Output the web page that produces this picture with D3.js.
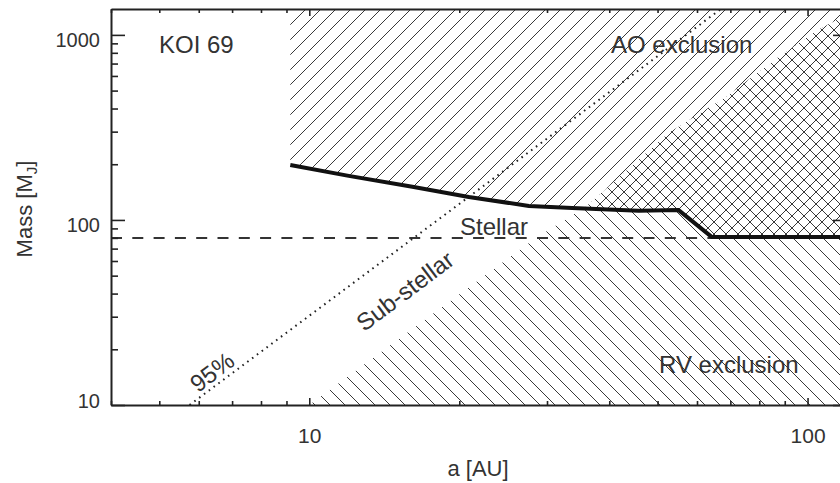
<!DOCTYPE html>
<html>
<head>
<meta charset="utf-8">
<script src="https://cdn.jsdelivr.net/npm/d3@7"></script>
<style>
  html, body { margin: 0; padding: 0; background: #fff; }
  #svg-container { width: 840px; height: 483px; }
  text { font-family: "Liberation Sans", Arial, Helvetica, sans-serif; fill: #333; }
</style>
</head>
<body>
<div id="svg-container"></div>
<script>
////////////////////////////////////////////////////////////////////
////////////////////////////  Data  ////////////////////////////////
// heavy line = AO detection limit, a [AU] / mass [MJ]
const aoLimitA = [9.16, 12.0, 16.1, 20.9, 27.6, 33.7, 45.8, 55.1, 64.2, 120];
const aoLimitM = [198, 173, 151, 133, 119, 116, 112, 113, 81, 81];

// lower edge of the RV exclusion zone
const rvLimitA = [10, 28.5, 35.9, 52.6, 68.5, 87.5, 105, 120];
const rvLimitM = [10, 80, 118, 295, 462, 760, 1065, 1290];

// 95% dotted line
const dottedA = [5.75, 67];
const dottedM = [10, 1380];

// stellar / sub-stellar boundary
const stellarMass = 80;

// axes
const xDomain = [4, 120];
const yDomain = [10, 1380];
const xMajor = [10, 100];
const yMajor = [10, 100, 1000];

////////////////////////////////////////////////////////////////////
////////////////////////////  Init  ////////////////////////////////
const width = 840;
const height = 483;
const plot = { left: 111, right: 847, top: 9, bottom: 405 };

const svg = d3.select("#svg-container").append("svg")
  .attr("width", width).attr("height", height);

const x = d3.scaleLog().domain(xDomain).range([plot.left, plot.right]);
const y = d3.scaleLog().domain(yDomain).range([plot.bottom, plot.top]);

const aoPts = aoLimitA.map((a, i) => [a, aoLimitM[i]]);
const rvPts = rvLimitA.map((a, i) => [a, rvLimitM[i]]);
const dotPts = dottedA.map((a, i) => [a, dottedM[i]]);

const line = d3.line().x((d) => x(d[0])).y((d) => y(d[1]));

// region polygons (in data units)
const aoRegion = [[aoLimitA[0], yDomain[1]], ...aoPts, [xDomain[1], yDomain[1]]];
const rvRegion = [...rvPts, [xDomain[1], yDomain[0]]];

const defs = svg.append("defs");

defs.append("clipPath").attr("id", "plot-clip")
  .append("rect")
  .attr("x", plot.left).attr("y", plot.top)
  .attr("width", plot.right - plot.left).attr("height", plot.bottom - plot.top);

defs.append("clipPath").attr("id", "ao-clip")
  .append("path").attr("d", line(aoRegion) + "Z");

// hatch patterns
function hatch(id, s, dirs) {
  const p = defs.append("pattern").attr("id", id)
    .attr("patternUnits", "userSpaceOnUse")
    .attr("width", s).attr("height", s);
  let d = "";
  if (dirs.includes("/")) d += `M-1,1 L1,-1 M0,${s} L${s},0 M${s - 1},${s + 1} L${s + 1},${s - 1} `;
  if (dirs.includes("\\")) d += `M0,0 L${s},${s} M-1,${s - 1} L1,${s + 1} M${s - 1},-1 L${s + 1},1`;
  p.append("path").attr("d", d)
    .attr("stroke", "#222").attr("stroke-width", 0.9).attr("fill", "none");
}
hatch("fwd", 15, "/");
hatch("back", 15, "\\");
hatch("cross", 12, "/\\");

////////////////////////////////////////////////////////////////////
////////////////////////////  Regions  /////////////////////////////
const g = svg.append("g").attr("clip-path", "url(#plot-clip)");

g.append("path").attr("d", line(aoRegion) + "Z").attr("fill", "url(#fwd)");
g.append("path").attr("d", line(rvRegion) + "Z").attr("fill", "url(#back)");

// overlap of both zones -> cross hatch
const both = g.append("g").attr("clip-path", "url(#ao-clip)");
both.append("path").attr("d", line(rvRegion) + "Z").attr("fill", "#fff");
both.append("path").attr("d", line(rvRegion) + "Z").attr("fill", "url(#cross)");

// dashed stellar limit
g.append("path")
  .attr("d", line([[xDomain[0], stellarMass], [xDomain[1], stellarMass]]))
  .attr("stroke", "#333").attr("stroke-width", 2)
  .attr("stroke-dasharray", "11,10.3").attr("fill", "none");

// 95% dotted
g.append("path")
  .attr("d", line(dotPts))
  .attr("stroke", "#222").attr("stroke-width", 2)
  .attr("stroke-dasharray", "1.6,4.4").attr("fill", "none");

// heavy AO line
g.append("path")
  .attr("d", line(aoPts))
  .attr("stroke", "#111").attr("stroke-width", 4)
  .attr("stroke-linejoin", "round").attr("fill", "none");

////////////////////////////////////////////////////////////////////
////////////////////////////  Axes  ////////////////////////////////
const isMajor = (v) => Math.abs(Math.log10(v) - Math.round(Math.log10(v))) < 1e-9;
const fmt = (list) => (d) => (list.includes(d) ? d : "");

function styleAxis(sel, majorLen, minorLen, attr) {
  sel.select(".domain").attr("stroke", "#222").attr("stroke-width", 2);
  sel.selectAll(".tick line")
    .attr("stroke", "#222").attr("stroke-width", 1.6)
    .attr(attr, (d) => (isMajor(d) ? majorLen : minorLen));
}

// bottom
svg.append("g")
  .attr("transform", `translate(0,${plot.bottom})`)
  .call(d3.axisBottom(x).tickValues(x.ticks()).tickFormat(fmt(xMajor)).tickSizeOuter(0))
  .call((s) => styleAxis(s, -7, -4, "y2"))
  .call((s) => s.selectAll(".tick text")
    .attr("y", 38).attr("dy", 0)
    .style("font-size", "21px").attr("fill", "#333"));

// top
svg.append("g")
  .attr("transform", `translate(0,${plot.top})`)
  .call(d3.axisTop(x).tickValues(x.ticks()).tickFormat("").tickSizeOuter(0))
  .call((s) => styleAxis(s, 7, 4, "y2"));

// left
svg.append("g")
  .attr("transform", `translate(${plot.left},0)`)
  .call(d3.axisLeft(y).tickValues(y.ticks()).tickFormat(fmt(yMajor)).tickSizeOuter(0).tickPadding(11))
  .call((s) => styleAxis(s, 14, 7, "x2"))
  .call((s) => s.selectAll(".tick text")
    .attr("x", -11)
    .attr("dy", (d) => (d === yMajor[0] ? "0.1em" : "0.6em"))
    .style("font-size", "20px").attr("fill", "#333"));

// right
svg.append("g")
  .attr("transform", `translate(${plot.right},0)`)
  .call(d3.axisRight(y).tickValues(y.ticks()).tickFormat("").tickSizeOuter(0))
  .call((s) => styleAxis(s, -14, -7, "x2"));

svg.selectAll(".domain").attr("fill", "none");

// axis titles
svg.append("text")
  .attr("x", 478).attr("y", 476)
  .attr("text-anchor", "middle")
  .style("font-size", "22px")
  .text("a [AU]");

const yTitle = svg.append("text")
  .attr("transform", "translate(32,209) rotate(-90)")
  .attr("text-anchor", "middle")
  .style("font-size", "22px");
yTitle.append("tspan").text("Mass [M");
yTitle.append("tspan").attr("dy", 5).style("font-size", "15px").text("J");
yTitle.append("tspan").attr("dy", -5).text("]");

////////////////////////////////////////////////////////////////////
////////////////////////////  Labels  //////////////////////////////
const label = (txt, px, py, rot) =>
  svg.append("text")
    .attr("transform", `translate(${px},${py})` + (rot ? ` rotate(${rot})` : ""))
    .attr("text-anchor", rot ? "middle" : "start")
    .attr("dy", rot ? "0.35em" : 0)
    .style("font-size", "24px")
    .text(txt);

label("KOI 69", 159, 53);
label("AO exclusion", 611, 53);
label("Stellar", 460, 235);
label("RV exclusion", 659, 373);
label("Sub-stellar", 405, 291, -37);
label("95%", 212, 372, -37);
</script>
</body>
</html>
